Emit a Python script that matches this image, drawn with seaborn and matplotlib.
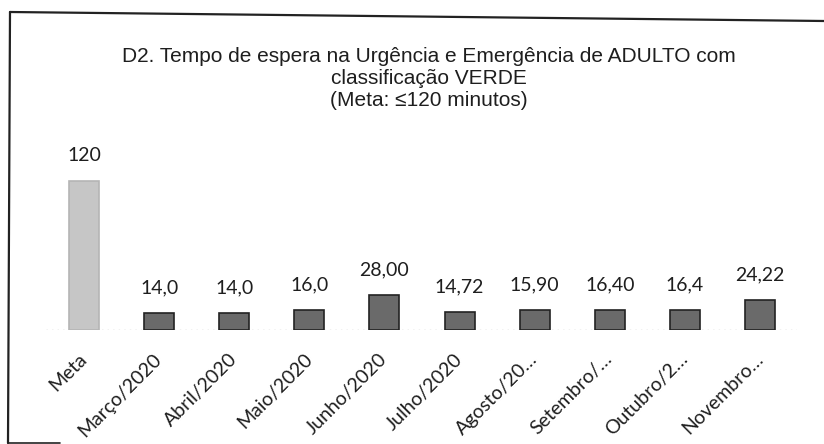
import seaborn as sns
import numpy as np
import pandas as pd
import matplotlib.pyplot as plt
from matplotlib.lines import Line2D

# data
categorias = ['Meta', 'Março/2020', 'Abril/2020', 'Maio/2020', 'Junho/2020', 'Julho/2020',
              'Agosto/2020', 'Setembro/2020', 'Outubro/2020', 'Novembro/2020']
rotulos_eixo = ['Meta', 'Março/2020', 'Abril/2020', 'Maio/2020', 'Junho/2020', 'Julho/2020',
                'Agosto/20…', 'Setembro/…', 'Outubro/2…', 'Novembro…']
minutos = [120, 14.0, 14.0, 16.0, 28.00, 14.72, 15.90, 16.40, 16.4, 24.22]
rotulos_valor = ['120', '14,0', '14,0', '16,0', '28,00', '14,72', '15,90', '16,40', '16,4', '24,22']

df = pd.DataFrame({'mes': categorias, 'minutos': minutos})

sns.set_theme(style='white')
plt.rcParams['font.family'] = ['Lato', 'DejaVu Sans']

fig = plt.figure(figsize=(8.24, 4.44), dpi=100)
ax = fig.add_axes([0.0564, 0.2568, 0.9114, 0.3918])

cores = ['#c6c6c6'] + ['#6a6a6a'] * (len(categorias) - 1)
sns.barplot(data=df, x='mes', y='minutos', hue='mes', palette=cores, legend=False,
            width=0.4, edgecolor='#222222', linewidth=1.2, ax=ax)
# meta bar has no dark outline
ax.patches[0].set_edgecolor('#b5b5b5')

for i, txt in enumerate(rotulos_valor):
    ax.annotate(txt, (i, minutos[i]), xytext=(0, 18), textcoords='offset points',
                ha='center', va='center', fontsize=14, color='#1e1e1e')

ax.set_ylim(0, 140)
ax.set_xlim(-0.5, len(categorias) - 0.5)
ax.set_yticks([])
ax.set_xlabel('')
ax.set_ylabel('')
ax.set_xticks(range(len(categorias)))
ax.set_xticklabels(rotulos_eixo, rotation=45, ha='right', va='center',
                   rotation_mode='anchor', fontsize=14, color='#1e1e1e')
ax.tick_params(axis='x', length=0, pad=19)
for s in ax.spines.values():
    s.set_visible(False)
ax.axhline(0, color='#bbbbbb', lw=1, ls=(0, (1, 3)), zorder=0)

# title
fig.text(0.521, 0.824, 'D2. Tempo de espera na Urgência e Emergência de ADULTO com\n'
         'classificação VERDE\n(Meta: ≤120 minutos)',
         ha='center', va='center', fontsize=15, family=['Liberation Sans', 'DejaVu Sans'],
         color='#1e1e1e', linespacing=1.2)

# scanned frame around the chart
W, H = 824, 444
fig.add_artist(Line2D([10 / W, 1.0], [1 - 12 / H, 1 - 21 / H], color='#222222', lw=1.6))
fig.add_artist(Line2D([10 / W, 8 / W], [1 - 12 / H, 1 - 443 / H], color='#222222', lw=1.6))
fig.add_artist(Line2D([8 / W, 60 / W], [1 - 443 / H, 1 - 443 / H], color='#222222', lw=1.2))

fig.savefig('out.png', dpi=100)
